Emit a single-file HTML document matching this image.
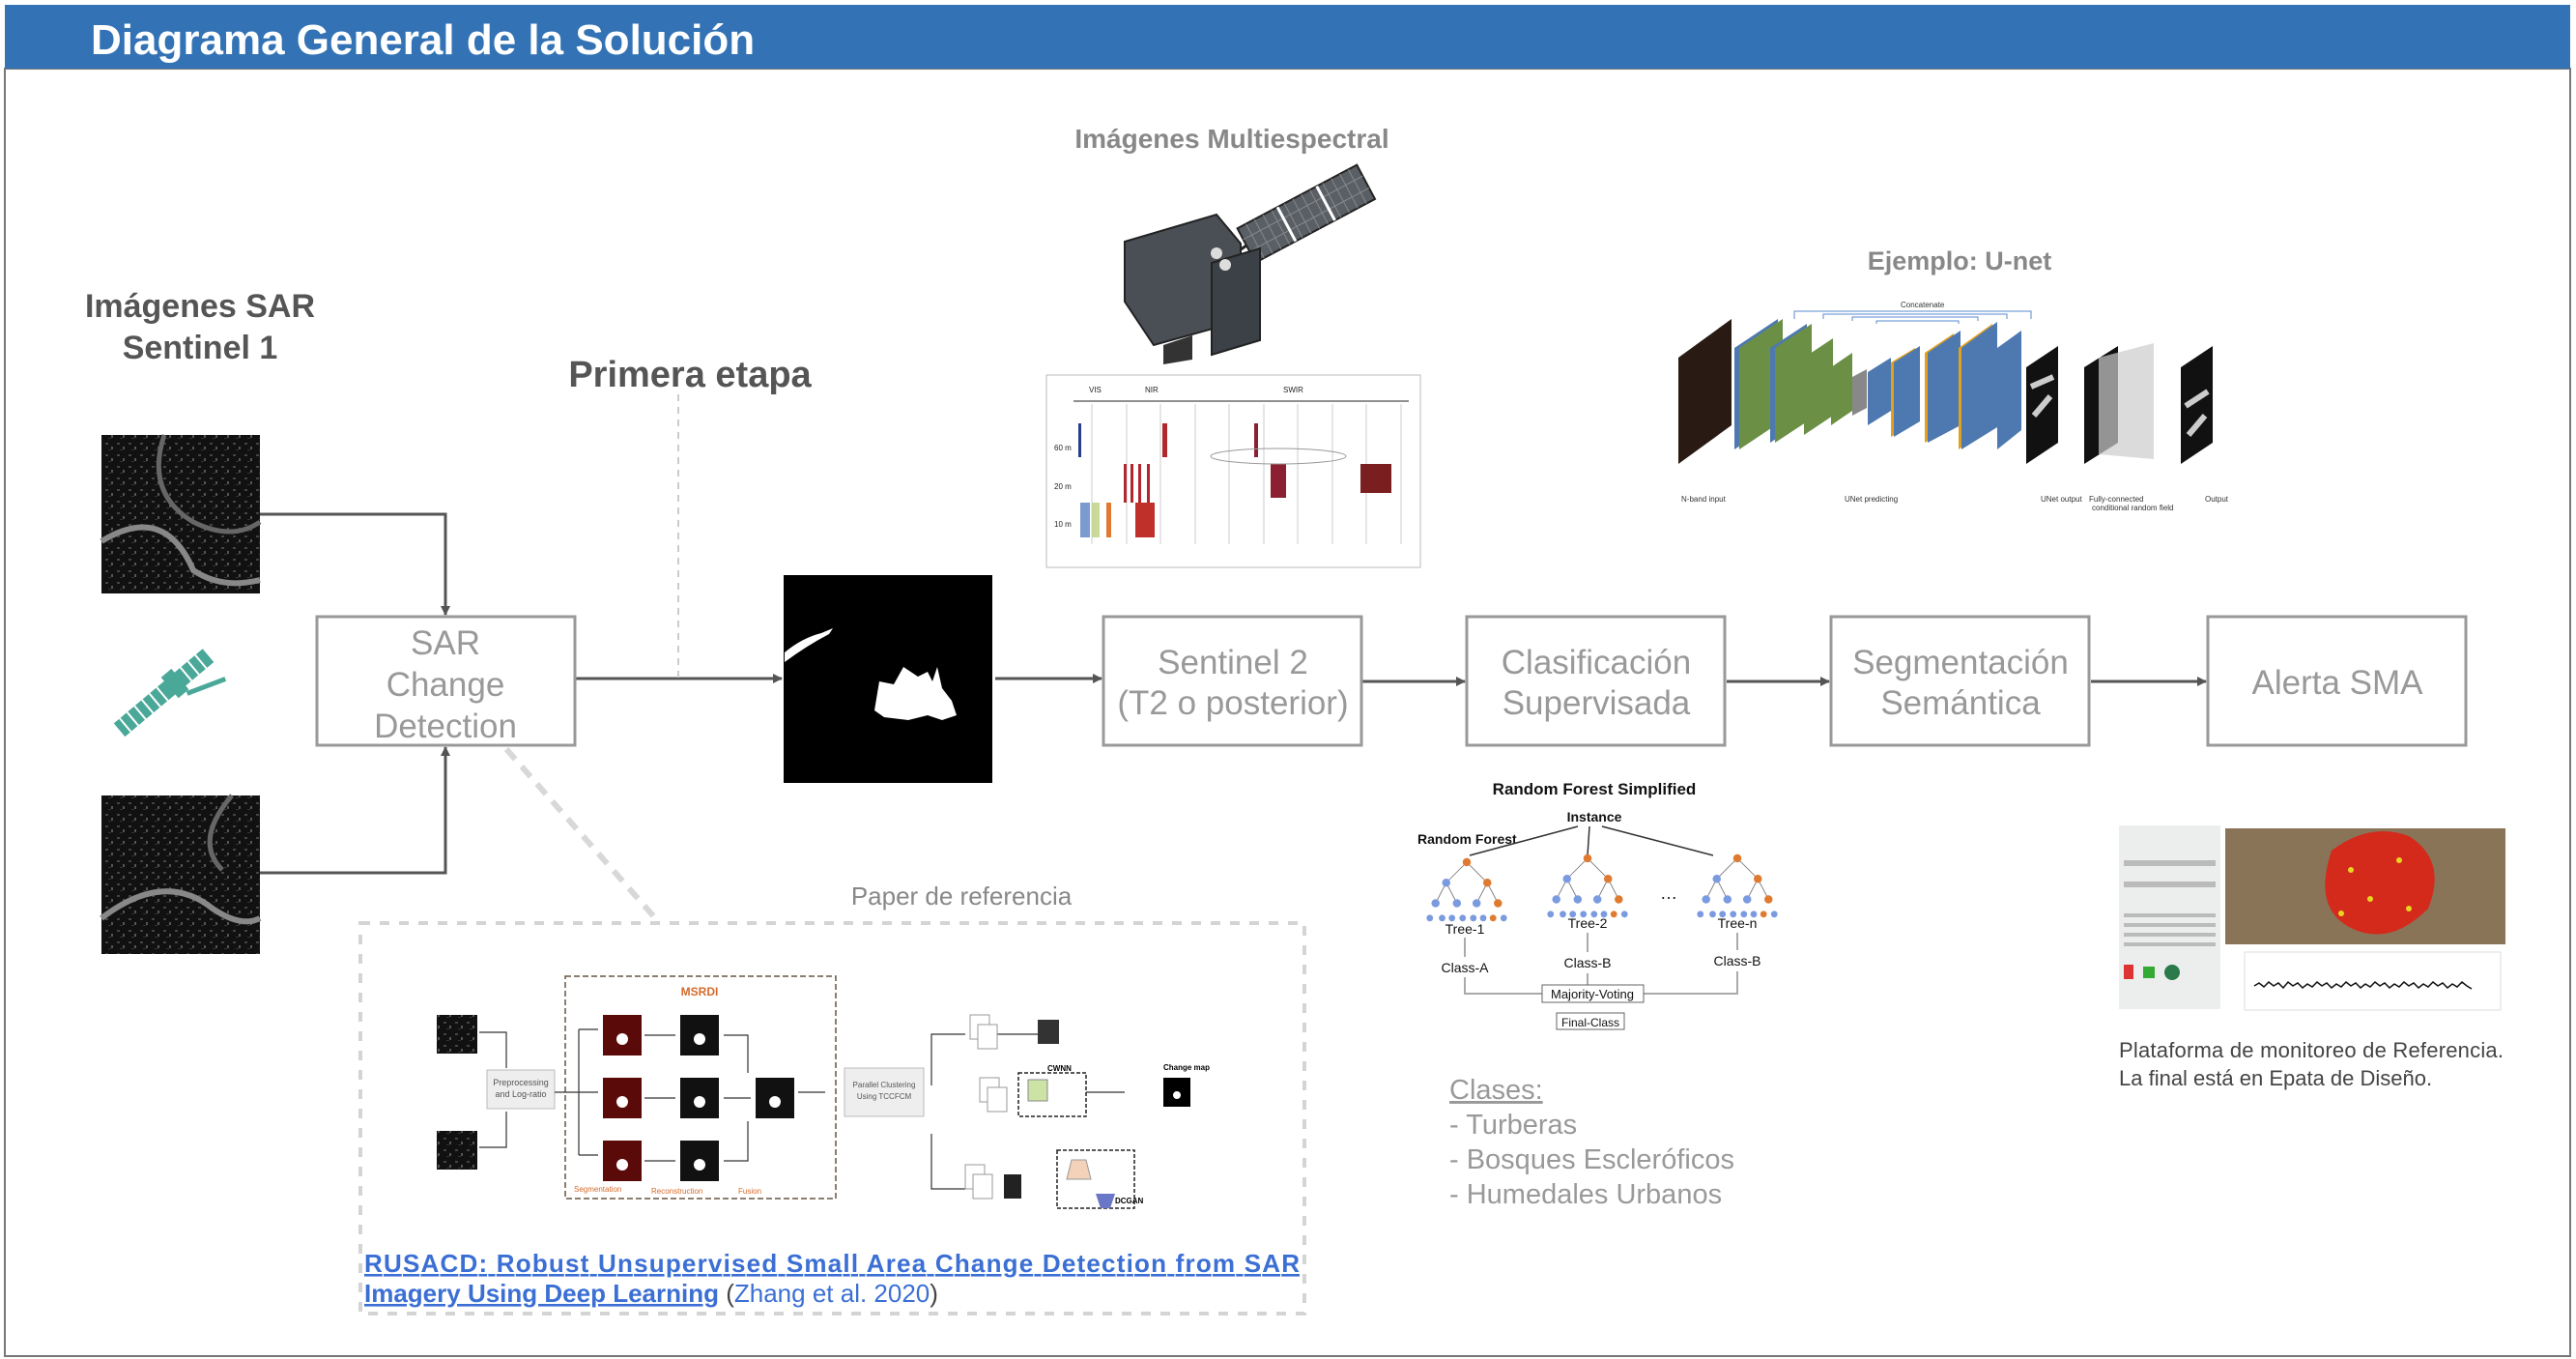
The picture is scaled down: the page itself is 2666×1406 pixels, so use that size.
<!DOCTYPE html>
<html><head><meta charset="utf-8"><style>
html,body{margin:0;padding:0;background:#fff;}
svg{display:block;}
text{font-family:"Liberation Sans",sans-serif;}
</style></head><body>
<svg width="2666" height="1406" viewBox="0 0 2666 1406" xmlns="http://www.w3.org/2000/svg">
<defs>
<marker id="ah" markerWidth="10" markerHeight="10" refX="9" refY="5" orient="auto" markerUnits="userSpaceOnUse"><path d="M0,0 L10,5 L0,10 z" fill="#555"/></marker>
<pattern id="noise" width="12" height="12" patternUnits="userSpaceOnUse"><rect width="12" height="12" fill="#111"/><rect x="1" y="2" width="3" height="2" fill="#444"/><rect x="7" y="6" width="2" height="3" fill="#555"/><rect x="4" y="9" width="3" height="1" fill="#333"/></pattern>
<g id="tree">
<path d="M0,0 L-25,25 M0,0 L25,25 M-25,25 L-38,50 M-25,25 L-12,50 M25,25 L12,50 M25,25 L38,50" stroke="#777" fill="none"/>
<circle cx="0" cy="0" r="5" fill="#e07a30"/><circle cx="-25" cy="25" r="5" fill="#7b9be0"/><circle cx="25" cy="25" r="5" fill="#e07a30"/>
<circle cx="-38" cy="50" r="5" fill="#7b9be0"/><circle cx="-12" cy="50" r="5" fill="#7b9be0"/><circle cx="12" cy="50" r="5" fill="#7b9be0"/><circle cx="38" cy="50" r="5" fill="#e07a30"/>
<circle cx="-45" cy="68" r="4" fill="#7b9be0"/><circle cx="-30" cy="68" r="4" fill="#7b9be0"/><circle cx="-18" cy="68" r="4" fill="#7b9be0"/><circle cx="-5" cy="68" r="4" fill="#7b9be0"/><circle cx="8" cy="68" r="4" fill="#7b9be0"/><circle cx="20" cy="68" r="4" fill="#7b9be0"/><circle cx="32" cy="68" r="4" fill="#e07a30"/><circle cx="45" cy="68" r="4" fill="#7b9be0"/>
</g>
</defs>
<rect x="5" y="71" width="2655" height="1332" fill="#fff" stroke="#777" stroke-width="2"/>
<rect x="5" y="5" width="2655" height="66" fill="#3373b5"/>
<text x="94" y="56" font-size="44" font-weight="bold" fill="#fff">Diagrama General de la Solución</text>

<text x="207" y="328" font-size="34" font-weight="bold" fill="#555" text-anchor="middle">Imágenes SAR</text>
<text x="207" y="371" font-size="34" font-weight="bold" fill="#555" text-anchor="middle">Sentinel 1</text>

<rect x="105" y="450" width="164" height="164" fill="url(#noise)"/>
<path d="M105,560 Q170,520 200,590 Q230,610 269,600" stroke="#888" stroke-width="6" fill="none"/>
<path d="M170,450 Q150,510 200,540 Q240,560 269,540" stroke="#666" stroke-width="5" fill="none"/>
<rect x="105" y="823" width="164" height="164" fill="url(#noise)"/>
<path d="M105,950 Q170,900 220,940 Q250,960 269,950" stroke="#888" stroke-width="6" fill="none"/>
<path d="M240,823 Q200,870 230,900" stroke="#666" stroke-width="5" fill="none"/>

<g transform="translate(168,718) rotate(-40)">
<rect x="-58" y="-9" width="70" height="18" fill="#4aa899"/>
<rect x="22" y="-9" width="40" height="18" fill="#4aa899"/>
<rect x="10" y="-14" width="14" height="28" fill="#4aa899"/>
<path d="M-50,-9 v18 M-40,-9 v18 M-30,-9 v18 M-20,-9 v18 M-10,-9 v18 M0,-9 v18 M32,-9 v18 M42,-9 v18 M52,-9 v18" stroke="#fff" stroke-width="2"/>
<path d="M20,16 L60,30" stroke="#4aa899" stroke-width="5"/>
</g>

<g stroke="#555" stroke-width="3" fill="none">
<path d="M269,532 H461 V636" marker-end="url(#ah)"/>
<path d="M269,903 H461 V773" marker-end="url(#ah)"/>
<path d="M596,702 H809" marker-end="url(#ah)"/>
<path d="M1030,702 H1140" marker-end="url(#ah)"/>
<path d="M1410,705 H1516" marker-end="url(#ah)"/>
<path d="M1787,705 H1893" marker-end="url(#ah)"/>
<path d="M2164,705 H2283" marker-end="url(#ah)"/>
</g>
<path d="M702,408 V702" stroke="#ccc" stroke-width="2" stroke-dasharray="7,6"/>
<path d="M524,775 L680,952" stroke="#d8d8d8" stroke-width="6" stroke-dasharray="14,10"/>

<g fill="#fff" stroke="#999" stroke-width="3">
<rect x="328" y="638" width="267" height="133"/>
<rect x="1142" y="638" width="267" height="133"/>
<rect x="1518" y="638" width="267" height="133"/>
<rect x="1895" y="638" width="267" height="133"/>
<rect x="2285" y="638" width="267" height="133"/>
</g>
<g font-size="35" fill="#999" text-anchor="middle">
<text x="461" y="677">SAR</text>
<text x="461" y="720">Change</text>
<text x="461" y="763">Detection</text>
<text x="1276" y="697">Sentinel 2</text>
<text x="1276" y="739">(T2 o posterior)</text>
<text x="1652" y="697">Clasificación</text>
<text x="1652" y="739">Supervisada</text>
<text x="2029" y="697">Segmentación</text>
<text x="2029" y="739">Semántica</text>
<text x="2419" y="718">Alerta SMA</text>
</g>

<text x="714" y="400" font-size="38" font-weight="bold" fill="#555" text-anchor="middle">Primera etapa</text>

<rect x="811" y="595" width="216" height="215" fill="#000"/>
<path d="M812,675 Q830,660 850,655 L862,650 L858,656 Q835,668 812,685 z" fill="#fff"/>
<path d="M905,735 L910,705 L925,708 L935,690 L950,700 L960,695 L965,705 L970,690 L975,712 L985,725 L990,740 L975,745 L960,740 L940,745 L915,742 z" fill="#fff"/>

<text x="1275" y="153" font-size="28" font-weight="bold" fill="#888" text-anchor="middle">Imágenes Multiespectral</text>
<g transform="translate(1164,162)">
<g transform="translate(126,92) rotate(-28)">
<rect x="0" y="-20" width="140" height="40" fill="#5a5f66" stroke="#222" stroke-width="2"/>
<path d="M10,-20 v40 M20,-20 v40 M30,-20 v40 M40,-20 v40 M55,-20 v40 M65,-20 v40 M75,-20 v40 M85,-20 v40 M100,-20 v40 M110,-20 v40 M120,-20 v40 M130,-20 v40 M0,-7 h140 M0,7 h140" stroke="#888" stroke-width="1"/>
<path d="M47,-20 v40 M93,-20 v40" stroke="#fff" stroke-width="3"/>
</g>
<path d="M100,110 L126,92" stroke="#222" stroke-width="3"/>
<polygon points="0,88 95,60 120,90 120,170 30,195 0,150" fill="#4a4f56" stroke="#222" stroke-width="2"/>
<polygon points="90,110 140,95 140,190 90,205" fill="#3c4047" stroke="#222" stroke-width="2"/>
<polygon points="40,195 70,185 70,210 40,215" fill="#333"/>
<circle cx="95" cy="100" r="6" fill="#ddd"/><circle cx="104" cy="112" r="6" fill="#ddd"/>
</g>
<g transform="translate(1083,388)">
<rect width="387" height="199" fill="#fff" stroke="#bbb"/>
<g font-size="8" fill="#222"><text x="44" y="18">VIS</text><text x="102" y="18">NIR</text><text x="245" y="18">SWIR</text><text x="8" y="78">60 m</text><text x="8" y="118">20 m</text><text x="8" y="157">10 m</text></g>
<path d="M28,27 H375" stroke="#222" stroke-width="1"/>
<g stroke="#ccc"><path d="M47,30V175M83,30V175M118,30V175M154,30V175M189,30V175M225,30V175M260,30V175M296,30V175M331,30V175M367,30V175"/></g>
<rect x="33" y="50" width="3" height="35" fill="#2a3d8a"/>
<rect x="120" y="50" width="5" height="35" fill="#b0272c"/>
<rect x="215" y="50" width="4" height="35" fill="#8a2030"/>
<rect x="80" y="92" width="3" height="40" fill="#b0272c"/><rect x="87" y="92" width="3" height="40" fill="#b0272c"/><rect x="95" y="92" width="3" height="40" fill="#b0272c"/><rect x="104" y="92" width="3" height="40" fill="#b0272c"/>
<rect x="232" y="92" width="16" height="35" fill="#8a2030"/><rect x="325" y="92" width="32" height="30" fill="#7a1e20"/>
<rect x="35" y="132" width="10" height="36" fill="#7b9bd0"/><rect x="47" y="132" width="8" height="36" fill="#c9d99a"/><rect x="62" y="132" width="5" height="36" fill="#e07a30"/><rect x="92" y="132" width="20" height="36" fill="#c0302a"/>
<ellipse cx="240" cy="84" rx="70" ry="8" fill="none" stroke="#999"/>
</g>

<text x="2028" y="279" font-size="27" font-weight="bold" fill="#888" text-anchor="middle">Ejemplo: U-net</text>
<g transform="translate(1737,330)">
<polygon points="0,150 0,40 55,0 55,110" fill="#2a1a14"/>
<path d="M120,0 V-8 H365 V0 M150,0 V-5 H340 V0 M180,2 V-2 H310 V2 M205,5 V2 H290 V5" stroke="#5a8ad0" fill="none"/>
<text x="230" y="-12" font-size="8" font-family="Liberation Serif" fill="#333">Concatenate</text>
<polygon points="58,135 58,30 103,0 103,105" fill="#4e79b0"/><polygon points="63,135 63,30 108,0 108,105" fill="#6a8f45"/>
<polygon points="95,128 95,30 133,5 133,103" fill="#4e79b0"/><polygon points="100,128 100,30 138,5 138,103" fill="#6a8f45"/>
<polygon points="130,120 130,40 160,20 160,100" fill="#6a8f45"/>
<polygon points="158,110 158,50 180,35 180,95" fill="#6a8f45"/>
<polygon points="180,100 180,60 195,52 195,92" fill="#888"/>
<polygon points="196,110 196,55 220,40 220,95" fill="#4e79b0"/>
<polygon points="220,122 220,45 245,30 245,107" fill="#e0a020"/><polygon points="223,122 223,45 250,28 250,106" fill="#4e79b0"/>
<polygon points="255,128 255,35 285,15 285,110" fill="#e0a020"/><polygon points="258,128 258,35 292,12 292,110" fill="#4e79b0"/>
<polygon points="290,135 290,30 325,5 325,112" fill="#e0a020"/><polygon points="293,135 293,30 330,3 330,112" fill="#4e79b0"/>
<polygon points="330,135 330,30 355,12 355,115" fill="#4e79b0"/>
<polygon points="360,150 360,50 393,28 393,128" fill="#111"/><path d="M365,70 L388,60 M368,100 L385,80" stroke="#ccc" stroke-width="6"/>
<polygon points="420,150 420,50 455,28 455,128" fill="#111"/><polygon points="435,140 435,40 492,25 492,145" fill="#ccc" opacity="0.7"/>
<polygon points="520,150 520,50 553,28 553,128" fill="#111"/><path d="M525,90 L548,75 M528,120 L545,100" stroke="#ccc" stroke-width="6"/>
<g font-size="8" font-family="Liberation Serif" fill="#333"><text x="3" y="189">N-band input</text><text x="172" y="189">UNet predicting</text><text x="375" y="189">UNet output</text><text x="425" y="189">Fully-connected</text><text x="428" y="198">conditional random field</text><text x="545" y="189">Output</text></g>
</g>

<g transform="translate(1453,800)" fill="#111">
<text x="197" y="22" font-size="17" font-weight="bold" text-anchor="middle" font-family="Liberation Serif">Random Forest Simplified</text>
<text x="197" y="50" font-size="14" font-weight="bold" text-anchor="middle" font-family="Liberation Serif">Instance</text>
<text x="14" y="73" font-size="14" font-weight="bold" font-family="Liberation Serif">Random Forest</text>
<g stroke="#333" stroke-width="1.5"><path d="M180,55 L68,85 M192,55 L190,85 M205,55 L320,85"/></g>
<use href="#tree" transform="translate(65,92) scale(0.85)"/>
<use href="#tree" transform="translate(190,88) scale(0.85)"/>
<use href="#tree" transform="translate(345,88) scale(0.85)"/>
<text x="265" y="130" font-size="18" font-family="Liberation Serif">…</text>
<g font-size="14" text-anchor="middle"><text x="63" y="166" font-family="Liberation Serif">Tree-1</text><text x="190" y="160" font-family="Liberation Serif">Tree-2</text><text x="345" y="160" font-family="Liberation Serif">Tree-n</text>
<text x="63" y="206" font-family="Liberation Serif">Class-A</text><text x="190" y="201" font-family="Liberation Serif">Class-B</text><text x="345" y="199" font-family="Liberation Serif">Class-B</text></g>
<g stroke="#aaa" stroke-width="2" fill="none"><path d="M63,170 V190 M190,165 V185 M345,165 V183"/><path d="M63,211 V228 H143 M345,205 V228 H248 M190,207 V219"/></g>
<rect x="143" y="219" width="105" height="18" fill="#fff" stroke="#666"/><text x="195" y="233" font-size="13" text-anchor="middle" font-family="Liberation Serif">Majority-Voting</text>
<rect x="158" y="248" width="70" height="17" fill="#fff" stroke="#666"/><text x="193" y="262" font-size="12" text-anchor="middle" font-family="Liberation Serif">Final-Class</text>
</g>

<g font-size="29" fill="#999">
<text x="1500" y="1137" text-decoration="underline">Clases:</text>
<text x="1500" y="1173">-  Turberas</text>
<text x="1500" y="1209">-  Bosques Escleróficos</text>
<text x="1500" y="1245">-  Humedales Urbanos</text>
</g>

<g transform="translate(2193,850)">
<rect width="400" height="195" fill="#fff"/>
<rect x="0" y="4" width="105" height="190" fill="#eceeed"/>
<g fill="#bbb"><rect x="5" y="40" width="95" height="6"/><rect x="5" y="62" width="95" height="6"/><rect x="5" y="95" width="95" height="4"/><rect x="5" y="105" width="95" height="4"/><rect x="5" y="115" width="95" height="4"/><rect x="5" y="125" width="95" height="4"/></g>
<rect x="5" y="148" width="10" height="15" fill="#d33"/><rect x="25" y="150" width="12" height="12" fill="#3a3"/><circle cx="55" cy="156" r="8" fill="#2a7a4a"/>
<rect x="110" y="7" width="290" height="120" fill="#8a7458"/>
<path d="M220,30 Q260,0 300,15 Q340,40 320,90 Q280,130 240,110 Q200,90 220,30 z" fill="#d42a1c"/>
<g fill="#e8d520"><circle cx="240" cy="50" r="3"/><circle cx="260" cy="80" r="3"/><circle cx="290" cy="40" r="3"/><circle cx="300" cy="90" r="3"/><circle cx="230" cy="95" r="3"/></g>
<rect x="130" y="135" width="265" height="60" fill="#fff" stroke="#ddd"/>
<path d="M140,170 l5,-3 l5,4 l5,-5 l5,4 l5,-3 l5,5 l5,-6 l5,4 l5,-3 l5,5 l5,-4 l5,3 l5,-5 l5,4 l5,-3 l5,5 l5,-4 l5,3 l5,-5 l5,4 l5,-3 l5,5 l5,-4 l5,3 l5,-5 l5,4 l5,-3 l5,5 l5,-4 l5,3 l5,-5 l5,4 l5,-3 l5,5 l5,-4 l5,3 l5,-5 l5,4 l5,-3 l5,5 l5,-4 l5,3 l5,-5 l5,4 l5,3" stroke="#111" stroke-width="1.5" fill="none"/>
</g>
<g font-size="22" fill="#444">
<text x="2193" y="1094" textLength="398" lengthAdjust="spacing">Plataforma de monitoreo de Referencia.</text>
<text x="2193" y="1123">La final está en Epata de Diseño.</text>
</g>

<text x="995" y="936" font-size="26" fill="#888" text-anchor="middle">Paper de referencia</text>
<rect x="373" y="955" width="977" height="404" fill="none" stroke="#d4d4d4" stroke-width="4" stroke-dasharray="10,10"/>
<g transform="translate(434,995)">
<rect x="18" y="55" width="42" height="40" fill="url(#noise)"/><rect x="18" y="175" width="42" height="40" fill="url(#noise)"/>
<rect x="70" y="112" width="70" height="40" fill="#eee" stroke="#bbb"/>
<text x="105" y="128" font-size="9" text-anchor="middle" fill="#555">Preprocessing</text><text x="105" y="140" font-size="9" text-anchor="middle" fill="#555">and Log-ratio</text>
<rect x="151" y="15" width="280" height="230" fill="none" stroke="#665544" stroke-dasharray="6,3" stroke-width="1.5"/>
<text x="290" y="35" font-size="12" fill="#d66a2a" text-anchor="middle" font-weight="bold">MSRDI</text>
<g fill="#5a0a08"><rect x="190" y="55" width="40" height="42"/><rect x="190" y="120" width="40" height="42"/><rect x="190" y="185" width="40" height="42"/></g>
<g fill="#111"><rect x="270" y="55" width="40" height="42"/><rect x="270" y="120" width="40" height="42"/><rect x="270" y="185" width="40" height="42"/><rect x="348" y="120" width="40" height="42"/></g>
<g fill="#fff"><circle cx="210" cy="80" r="6"/><circle cx="210" cy="145" r="6"/><circle cx="210" cy="210" r="6"/><circle cx="290" cy="80" r="6"/><circle cx="290" cy="145" r="6"/><circle cx="290" cy="210" r="6"/><circle cx="368" cy="145" r="6"/></g>
<g font-size="8" fill="#d66a2a"><text x="160" y="238">Segmentation</text><text x="240" y="240">Reconstruction</text><text x="330" y="240">Fusion</text></g>
<g stroke="#333" stroke-width="1.2" fill="none">
<path d="M62,73 H90 V110 M62,192 H90 V155 M140,135 H165 M165,70 V200 M165,70 H185 M165,135 H185 M165,200 H185 M233,76 H265 M233,141 H265 M233,206 H265 M315,76 H340 V115 M315,141 H343 M315,206 H340 V165 M392,135 H420"/>
<path d="M530,128 V75 H565 M530,178 V235 H565 M595,75 H640 M690,135 H730"/>
</g>
<rect x="440" y="110" width="82" height="50" fill="#eee" stroke="#bbb"/>
<text x="481" y="130" font-size="8" text-anchor="middle" fill="#555">Parallel Clustering</text><text x="481" y="142" font-size="8" text-anchor="middle" fill="#555">Using TCCFCM</text>
<g fill="#fff" stroke="#999"><rect x="570" y="55" width="20" height="25"/><rect x="578" y="65" width="20" height="25"/><rect x="580" y="120" width="20" height="25"/><rect x="588" y="130" width="20" height="25"/><rect x="565" y="210" width="20" height="25"/><rect x="573" y="220" width="20" height="25"/></g>
<rect x="640" y="60" width="22" height="25" fill="#333"/>
<rect x="620" y="115" width="70" height="45" fill="none" stroke="#222" stroke-dasharray="4,2" stroke-width="1.5"/>
<text x="650" y="113" font-size="8" font-weight="bold">CWNN</text>
<rect x="630" y="122" width="20" height="22" fill="#cde2a5" stroke="#888"/>
<rect x="660" y="195" width="80" height="60" fill="none" stroke="#222" stroke-dasharray="4,2" stroke-width="1.5"/>
<polygon points="670,225 675,205 690,205 695,225" fill="#f3d2b9" stroke="#999"/>
<polygon points="700,240 720,240 715,255 705,255" fill="#6a76c6"/>
<text x="720" y="250" font-size="8" font-weight="bold">DCGAN</text>
<rect x="605" y="220" width="18" height="25" fill="#222"/>
<rect x="770" y="120" width="28" height="30" fill="#000"/><circle cx="784" cy="138" r="4" fill="#fff"/>
<text x="770" y="112" font-size="8" font-weight="bold">Change map</text>
</g>
<text x="377" y="1316" font-size="26" font-weight="bold" fill="#3b6fd4" text-decoration="underline" textLength="968" lengthAdjust="spacing">RUSACD: Robust Unsupervised Small Area Change Detection from SAR</text>
<text x="377" y="1347" font-size="26" fill="#3b6fd4"><tspan font-weight="bold" text-decoration="underline">Imagery Using Deep Learning</tspan><tspan fill="#444"> (</tspan>Zhang et al. 2020<tspan fill="#444">)</tspan></text>
</svg>
</body></html>
